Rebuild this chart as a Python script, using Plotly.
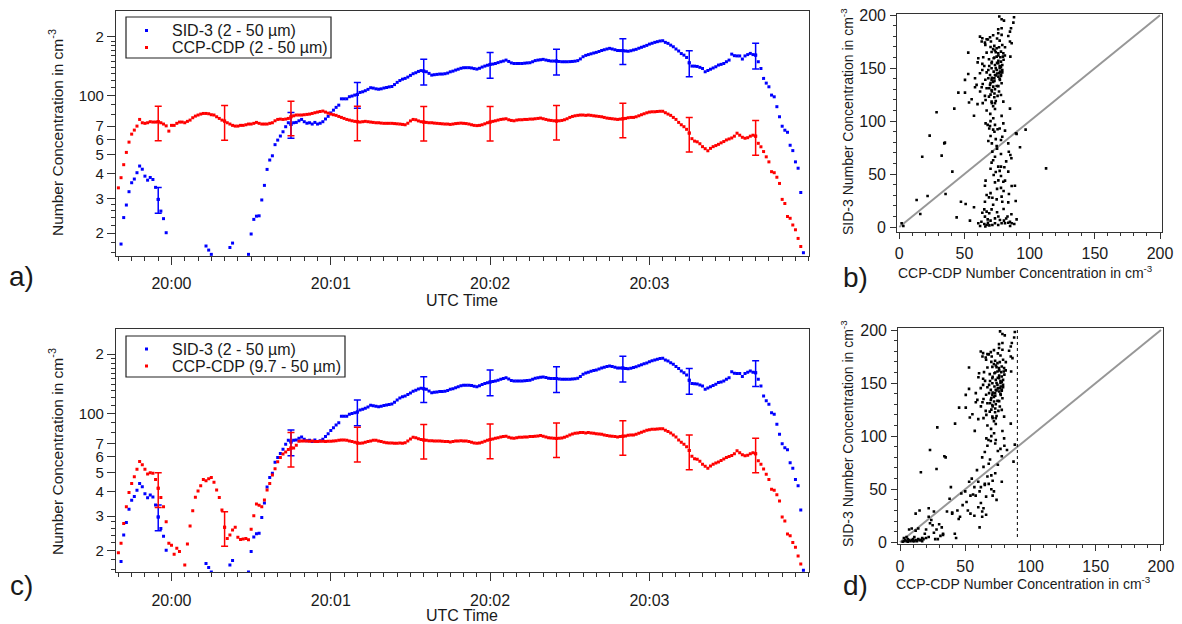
import plotly.graph_objects as go

W, H = 1182, 624
FONT = "Arial, Liberation Sans, sans-serif"
TXT = "#1a1a1a"
AX = "#333333"


def px(x):
    return x / W


def py(y):
    return 1 - y / H


# ---------------- time series data (1 Hz, seconds after 20:00:00 UTC) ----------------
T0 = -20  # first sample time of every series below
ERR_T = [-5, 20, 45, 70, 95, 120, 145, 170, 195, 220]  # times of the plotted error bars
SID_ERR_PCT = 15
CDP_ERR_PCT = 20

# SID-3 (2 - 50 um), cm^-3 (None = below the plotted range)
SID3 = [
    None, 17.6, 24.0, 27.8, 32.5, 36.1, 37.7, 40.6, 43.9, 42.3,
    39.0, 37.2, 38.4, 37.5, 34.2, 29.7, 25.9, 23.7, 20.1, None,
    None, None, None, None, None, None, None, None, None, None,
    None, None, None, 17.2, 16.4, 15.6, None, None, None, None,
    None, None, 16.9, 17.8, None, None, None, None, None, 15.6,
    19.8, 23.5, 24.4, 24.5, 29.5, 35.0, 42.2, 47.1, 49.5, 56.4,
    59.5, 62.4, 65.6, 69.6, 72.9, 71.5, 72.9, 73.2, 74.6, 75.8,
    73.8, 72.5, 72.9, 71.8, 73.2, 71.8, 72.5, 73.8, 76.2, 78.6,
    81.8, 84.5, 87.3, 89.6, 96.5, 96.5, 96.5, 98.9, 99.7, 100.8,
    101.6, 104.0, 104.8, 106.1, 107.8, 109.9, 109.4, 108.5, 108.0, 108.5,
    109.5, 110.2, 111.0, 111.5, 114.0, 117.0, 119.5, 121.5, 122.6, 124.5,
    127.0, 129.5, 131.0, 133.0, 134.3, 133.5, 132.5, 130.0, 127.4, 128.0,
    128.5, 129.0, 129.0, 129.5, 130.5, 132.4, 133.5, 135.1, 136.5, 138.0,
    138.9, 139.0, 139.0, 138.5, 137.5, 136.7, 138.0, 140.0, 141.6, 143.0,
    144.4, 145.0, 146.0, 147.5, 149.0, 150.2, 151.9, 149.5, 147.0, 146.0,
    146.0, 146.0, 146.0, 146.5, 147.0, 147.3, 149.0, 151.0, 151.9, 152.5,
    153.2, 152.0, 151.0, 150.2, 150.2, 150.2, 149.5, 149.0, 149.0, 149.0,
    149.2, 149.5, 150.0, 151.0, 154.0, 158.0, 160.5, 162.0, 163.5, 165.0,
    166.3, 168.0, 170.0, 171.5, 173.0, 174.3, 173.0, 171.5, 170.0, 169.8,
    169.8, 169.0, 168.5, 169.5, 171.0, 172.3, 174.5, 176.5, 178.5, 180.5,
    183.2, 185.0, 187.0, 188.5, 190.0, 190.6, 187.0, 184.8, 181.0, 177.6,
    173.0, 169.0, 164.0, 161.0, 156.7, 147.2, 141.6, 141.5, 141.0, 139.5,
    137.7, 132.5, 134.5, 136.5, 138.5, 140.5, 143.3, 144.5, 146.0, 149.0,
    151.9, 162.9, 160.0, 159.5, 159.5, 153.8, 159.5, 162.0, 164.3, 162.0,
    161.0, 149.0, 137.7, 122.6, 116.0, 111.1, 100.8, 98.8, 88.0, 78.2,
    70.0, 66.8, 65.2, 56.0, 52.6, 46.1, 42.8, 32.2, 15.9,
]

# CCP-CDP (2 - 50 um), cm^-3
CDP_2_50 = [
    34.0, 38.3, 44.6, 51.5, 58.1, 63.8, 66.9, 70.1, 75.8, 72.9,
    72.4, 72.9, 73.8, 73.5, 73.5, 73.8, 72.9, 71.8, 70.3, 66.1,
    70.7, 70.7, 72.4, 73.5, 73.5, 72.9, 74.1, 75.2, 77.3, 78.8,
    79.8, 80.7, 81.3, 81.3, 81.0, 80.1, 79.8, 78.2, 76.7, 75.2,
    74.3, 72.9, 71.8, 70.7, 70.1, 70.1, 70.7, 70.7, 71.2, 71.8,
    71.8, 72.4, 73.2, 72.4, 71.8, 71.8, 71.8, 72.4, 72.9, 74.6,
    75.8, 76.1, 75.8, 76.1, 76.7, 78.2, 79.1, 79.8, 79.8, 79.8,
    80.1, 80.4, 80.7, 81.3, 82.0, 82.6, 83.2, 83.6, 82.6, 81.6,
    80.7, 80.1, 79.5, 78.5, 77.6, 76.7, 75.8, 75.2, 74.6, 74.1,
    73.8, 73.5, 73.8, 74.1, 73.8, 73.5, 73.2, 72.9, 72.9, 72.6,
    72.4, 72.4, 72.4, 72.4, 72.2, 72.0, 71.8, 71.5, 71.2, 72.5,
    74.5, 75.8, 75.5, 74.5, 73.8, 73.5, 73.2, 72.9, 72.9, 72.6,
    72.4, 72.2, 72.0, 71.8, 71.8, 71.5, 71.8, 72.2, 72.4, 72.6,
    72.4, 72.2, 71.8, 71.2, 70.7, 70.5, 70.7, 71.2, 72.0, 72.9,
    73.5, 74.1, 74.6, 75.2, 75.8, 76.1, 76.4, 75.5, 74.9, 74.6,
    75.2, 75.5, 75.5, 75.8, 75.8, 76.1, 76.1, 76.4, 76.7, 77.0,
    76.4, 75.8, 75.2, 74.9, 74.6, 74.4, 74.6, 74.9, 75.5, 76.4,
    77.6, 78.5, 79.1, 79.5, 79.8, 79.8, 79.5, 79.8, 79.5, 79.1,
    78.8, 78.5, 78.2, 77.6, 77.0, 76.7, 76.4, 76.1, 75.8, 76.1,
    76.4, 76.7, 77.3, 77.6, 77.6, 78.2, 79.1, 80.1, 81.0, 81.9,
    82.6, 82.9, 82.9, 83.2, 83.4, 83.4, 82.0, 80.7, 79.5, 77.6,
    75.8, 73.2, 71.2, 69.6, 67.5, 64.6, 60.5, 58.8, 58.3, 57.0,
    55.1, 53.8, 52.5, 54.0, 55.1, 55.8, 56.6, 57.6, 58.5, 59.6,
    60.3, 61.0, 62.3, 64.5, 63.0, 61.5, 60.8, 61.2, 62.3, 63.0,
    62.3, 57.3, 55.0, 52.0, 48.9, 46.1, 41.1, 40.6, 38.5, 35.8,
    29.7, 28.3, 24.3, 23.8, 22.0, 20.8, 18.8, 17.1, None,
]

# CCP-CDP (9.7 - 50 um), cm^-3
CDP_97_50 = [
    19.5, 21.8, 27.5, 33.5, 39.5, 44.0, 47.6, 51.9, 56.9, 54.8,
    51.9, 49.1, 49.9, 49.5, 46.1, 41.5, 37.3, 33.5, 28.1, 21.8,
    21.3, 19.2, 20.6, 19.8, None, 16.9, 21.6, 26.7, 31.9, 37.4,
    40.2, 42.8, 46.1, 45.4, 46.5, 47.2, 44.6, 40.7, 37.3, 32.2,
    26.3, 23.1, 24.0, 25.5, 26.3, 23.4, 22.8, 22.9, 23.1, 22.7,
    25.7, 30.1, 34.6, 34.1, 33.5, 36.2, 40.7, 44.0, 48.5, 52.3,
    56.7, 59.5, 62.1, 63.5, 65.5, 66.6, 66.6, 68.7, 72.0, 72.3,
    72.3, 72.3, 72.0, 72.3, 71.8, 71.8, 72.0, 72.0, 71.8, 72.0,
    72.0, 72.3, 72.6, 72.9, 73.2, 73.2, 72.9, 72.3, 71.8, 71.2,
    70.7, 70.5, 70.7, 71.2, 71.8, 72.3, 72.9, 72.9, 72.3, 71.8,
    71.2, 70.9, 70.7, 70.7, 70.5, 70.5, 70.7, 70.5, 70.9, 72.2,
    74.0, 75.5, 75.2, 74.2, 73.5, 73.2, 72.9, 72.6, 72.6, 72.4,
    72.4, 72.2, 72.0, 71.8, 71.8, 71.5, 71.8, 72.2, 72.4, 72.6,
    72.4, 72.2, 71.8, 71.2, 70.7, 70.5, 70.7, 71.2, 72.0, 72.9,
    73.5, 74.1, 74.6, 75.2, 75.8, 76.1, 76.4, 75.5, 74.9, 74.6,
    75.2, 75.5, 75.5, 75.8, 75.8, 76.1, 76.1, 76.4, 76.7, 77.0,
    76.4, 75.8, 75.2, 74.9, 74.6, 74.4, 74.6, 74.9, 75.5, 76.4,
    77.6, 78.5, 79.1, 79.5, 79.8, 79.8, 79.5, 79.8, 79.5, 79.1,
    78.8, 78.5, 78.2, 77.6, 77.0, 76.7, 76.4, 76.1, 75.8, 76.1,
    76.4, 76.7, 77.3, 77.6, 77.6, 78.2, 79.1, 80.1, 81.0, 81.9,
    82.6, 82.9, 82.9, 83.2, 83.4, 83.4, 82.0, 80.7, 79.5, 77.6,
    75.8, 73.2, 71.2, 69.6, 67.5, 64.6, 60.5, 58.8, 58.3, 57.0,
    55.1, 53.8, 52.5, 54.0, 55.1, 55.8, 56.6, 57.6, 58.5, 59.6,
    60.3, 61.0, 62.3, 64.5, 63.0, 61.5, 60.8, 61.2, 62.3, 63.0,
    62.3, 57.3, 55.0, 52.0, 48.9, 46.1, 41.1, 40.6, 38.5, 35.8,
    29.7, 28.3, 24.3, 23.8, 22.0, 20.8, 18.8, 17.1, None,
]

TIME_TICKS = [0, 60, 120, 180]
TIME_LABELS = ["20:00", "20:01", "20:02", "20:03"]
LOG_TICKS = [20, 30, 40, 50, 60, 70, 100, 200]
LOG_LABELS = ["2", "3", "4", "5", "6", "7", "100", "2"]
LOG_MINOR = [16, 18, 22, 24, 26, 28, 80, 90, 110, 120, 130, 140, 150, 160, 170, 180, 190]

# ---------------- scatter data (CCP-CDP x, SID-3 y), cm^-3 ----------------
# points with SID-3 >= ~95 cm^-3 appear identically in panels b) and d)
SCATTER_UPPER = [
    (76.7, 198.7), (78.5, 196.2), (80.3, 194.9), (88.0, 198.1), (87.5, 193.0), (85.7, 187.7),
    (78.5, 187.7), (75.9, 186.7), (84.9, 184.5), (75.9, 183.0), (78.5, 181.4), (83.6, 180.4),
    (61.9, 179.8), (63.7, 178.2), (67.0, 177.3), (69.6, 179.2), (63.2, 175.1), (65.7, 174.1),
    (70.3, 175.1), (84.9, 175.1), (72.9, 171.0), (74.7, 168.8), (76.5, 169.7), (79.0, 171.9),
    (81.1, 169.7), (86.2, 173.5), (52.9, 164.7), (67.0, 164.7), (70.8, 165.3), (73.4, 166.6),
    (75.9, 164.1), (78.0, 165.6), (79.8, 164.1), (60.6, 159.3), (64.4, 160.3), (68.8, 158.4),
    (72.4, 159.3), (74.7, 160.9), (77.5, 160.3), (79.5, 160.9), (85.2, 160.9), (60.1, 155.5),
    (63.7, 154.0), (65.2, 152.1), (70.8, 154.6), (73.4, 153.0), (75.9, 154.6), (78.0, 156.2),
    (79.0, 153.0), (63.7, 148.3), (68.3, 148.3), (70.8, 149.9), (72.4, 146.7), (74.7, 148.3),
    (77.2, 146.7), (79.0, 148.3), (52.9, 144.5), (61.9, 145.2), (69.6, 143.6), (73.4, 143.6),
    (76.5, 145.2), (78.0, 142.7), (58.1, 140.5), (68.3, 140.5), (70.8, 138.9), (72.9, 140.5),
    (77.2, 138.9), (50.4, 138.9), (59.3, 134.2), (69.6, 134.2), (72.1, 132.6), (74.7, 133.2),
    (78.5, 135.7), (58.1, 131.9), (63.2, 131.9), (67.0, 131.0), (70.8, 129.4), (73.4, 130.1),
    (76.5, 127.9), (45.3, 126.9), (50.4, 126.9), (65.7, 123.8), (68.8, 123.1), (72.9, 122.5),
    (75.4, 123.8), (78.0, 124.7), (55.5, 120.6), (53.5, 117.5), (66.2, 120.0), (70.8, 118.4),
    (73.4, 116.8), (79.8, 118.4), (42.2, 111.8), (28.6, 108.3), (73.4, 111.5), (84.9, 111.8),
    (57.3, 105.0), (69.8, 106.8), (72.1, 102.7), (78.5, 104.9), (66.2, 97.9), (67.8, 96.4),
    (69.6, 95.4), (73.4, 96.4), (79.8, 97.9),
    (74, 150), (75, 145), (76, 142), (77, 152), (73, 138), (72, 137), (71, 141), (75, 155),
    (76, 157), (77, 150), (78, 144), (74, 143), (70, 136), (69, 131), (71, 128), (73, 126),
    (74, 119), (72, 114), (71, 117), (70, 125), (76, 133), (77, 140), (79, 146), (78, 151),
    (80, 158), (81, 162), (76, 162), (74, 165), (72, 168), (70, 170), (66, 172), (68, 177),
    (72, 181), (77, 176), (75, 178), (73, 160), (71, 156), (69, 152), (67, 146), (66, 139),
    (64, 135), (62, 128), (60, 116), (64, 117), (67, 110), (70, 100),
]

SCATTER_B_LOWER = [
    (75.4, 92.3), (81.1, 91.0), (90.0, 87.9), (96.9, 92.0), (23.3, 86.3), (68.3, 81.2),
    (79.0, 85.3), (78.0, 82.2), (35.0, 79.7), (34.5, 79.0), (74.7, 76.5), (83.6, 79.0),
    (92.6, 75.3), (71.4, 71.2), (17.6, 66.4), (32.5, 67.4), (73.4, 66.4), (78.0, 69.0),
    (85.2, 68.0), (70.8, 60.8), (75.9, 57.0), (78.0, 57.0), (80.6, 56.4), (40.7, 52.3),
    (72.4, 49.1), (78.0, 48.2), (83.6, 52.3), (66.2, 43.8), (81.1, 43.8), (79.8, 42.8),
    (73.4, 42.2), (65.7, 39.0), (86.2, 38.7), (88.7, 39.0), (21.7, 29.3), (35.5, 31.2),
    (67.0, 30.2), (68.8, 28.0), (71.4, 27.7), (74.7, 26.1), (78.5, 28.7), (84.1, 31.2),
    (13.3, 25.5), (47.3, 23.9), (50.9, 21.7), (65.7, 23.9), (79.0, 23.9), (83.6, 23.3),
    (89.3, 24.6), (57.3, 18.6), (65.2, 16.7), (67.0, 14.5), (70.8, 16.7), (63.7, 13.5),
    (44.0, 9.1), (16.1, 12.3), (54.2, 6.0), (65.7, 9.8), (67.8, 7.2), (73.4, 8.2),
    (77.2, 6.6), (80.3, 6.0), (84.9, 5.0), (90.0, 7.2), (60.6, 3.5), (65.2, 2.8),
    (67.0, 1.9), (69.1, 1.6), (71.4, 1.9), (73.4, 3.5), (75.9, 1.9), (78.5, 3.5),
    (81.1, 3.5), (83.6, 4.1), (86.2, 3.5), (88.2, 2.8), (1.8, 3.5), (3.1, 0.9),
    (112.6, 55.4), (89.5, 88.5), (72, 92), (73, 90), (77, 93), (69, 93), (70, 86),
    (74, 83), (75, 74), (71, 79), (72, 63), (74, 52), (70, 55), (77, 53), (76, 44),
    (82, 62), (86, 65), (84, 71), (75, 36), (70, 32), (78, 37), (80, 34), (72, 21),
    (69, 13), (75, 14), (80, 17), (83, 10), (86, 12), (63, 5), (68, 4), (70, 6),
    (76, 10), (82, 8), (85, 1), (62, 1), (66, 0.5),
]

SCATTER_D_LOWER = [
    (3, 1), (4, 2), (5, 1), (6, 3), (7, 2), (8, 1), (9, 2), (10, 3), (11, 1), (12, 2),
    (13, 1), (5, 5), (3, 4), (7, 12), (12, 11), (14, 13), (15, 2), (17, 4), (18, 3), (19, 8),
    (20, 12), (22, 5), (24, 21), (25, 16), (26, 9), (28, 12), (29, 3), (30, 17), (33, 8), (32, 14),
    (36, 29), (40, 27), (42, 8), (43, 4), (44, 30), (46, 24), (47, 46), (50, 48), (51, 38), (53, 57),
    (54, 27), (54, 44), (56, 45), (57, 52), (59, 68), (60, 57), (61, 48), (62, 52), (63, 29), (63, 24),
    (64, 32), (64, 71), (65, 55), (65, 54), (66, 26), (68, 74), (69, 78), (70, 63), (71, 44), (73, 65),
    (74, 40), (75, 73), (77, 88), (78, 81), (78, 57), (82, 87), (87, 76), (12, 27), (15, 30), (16, 66),
    (23, 87), (28, 69), (34, 81), (39, 52), (22, 32), (22, 24), (23, 18), (26, 29), (27, 3), (33, 7),
    (38, 41), (63, 80), (65, 85), (67, 62), (62, 37), (68, 55), (66, 43), (71, 58), (9, 13), (35, 80),
    (20, 4), (16, 2), (45, 22), (52, 30), (58, 44), (60, 33), (67, 91), (73, 93), (75, 86), (80, 91),
    (88, 92), (70, 50), (72, 48), (55, 60), (48, 35), (57, 25), (61, 14), (40, 28), (31, 6), (11, 5),
    (6, 0.5), (2, 0.5), (10, 1), (14, 3), (17, 1),
]

ONE_TO_ONE = [0, 200]
CDP_LIMIT = 90          # upper limit of the CCP-CDP 9.7-50 um concentration (dotted)
CDP_LIMIT_SPAN = [5, 200]
LIN_TICKS = [0, 50, 100, 150, 200]

BLUE = "#0000ff"
RED = "#ff0000"

fig = go.Figure()


def times(series):
    return list(range(T0, T0 + len(series)))


def ts_traces(series, name, color, pct, xa, ya):
    fig.add_trace(go.Scatter(
        x=times(series), y=series, mode="markers", name=name, showlegend=False,
        marker=dict(symbol="square", size=3, color=color),
        xaxis=xa, yaxis=ya))
    ex = [t for t in ERR_T if series[t - T0] is not None]
    ey = [series[t - T0] for t in ex]
    fig.add_trace(go.Scatter(
        x=ex, y=ey, mode="markers", showlegend=False,
        marker=dict(symbol="square", size=3, color=color),
        error_y=dict(type="percent", value=pct, color=color, thickness=1.5, width=3.5),
        xaxis=xa, yaxis=ya))


SID_NAME = "SID-3 (2 - 50 µm)"
CDP_A_NAME = "CCP-CDP (2 - 50 µm)"
CDP_C_NAME = "CCP-CDP (9.7 - 50 µm)"

# panel a
ts_traces(SID3, SID_NAME, BLUE, SID_ERR_PCT, "x", "y")
ts_traces(CDP_2_50, CDP_A_NAME, RED, CDP_ERR_PCT, "x", "y")
# panel c
ts_traces(SID3, SID_NAME, BLUE, SID_ERR_PCT, "x3", "y3")
ts_traces(CDP_97_50, CDP_C_NAME, RED, CDP_ERR_PCT, "x3", "y3")


def scatter_panel(points, xa, ya, limit=False):
    fig.add_trace(go.Scatter(x=ONE_TO_ONE, y=ONE_TO_ONE, mode="lines",
                             line=dict(color="#979797", width=2), showlegend=False,
                             xaxis=xa, yaxis=ya))
    if limit:
        fig.add_trace(go.Scatter(x=[CDP_LIMIT, CDP_LIMIT], y=CDP_LIMIT_SPAN, mode="lines",
                                 line=dict(color="#222", width=1.2, dash="dot"),
                                 showlegend=False, xaxis=xa, yaxis=ya))
    fig.add_trace(go.Scatter(x=[p[0] for p in points], y=[p[1] for p in points],
                             mode="markers", showlegend=False,
                             marker=dict(symbol="square", size=2.6, color="#000"),
                             xaxis=xa, yaxis=ya))


scatter_panel(SCATTER_UPPER + SCATTER_B_LOWER, "x2", "y2")
scatter_panel(SCATTER_UPPER + SCATTER_D_LOWER, "x4", "y4", limit=True)

base = dict(showline=True, linecolor=AX, linewidth=1.2, mirror=True, ticks="outside",
            tickcolor=AX, tickwidth=1, showgrid=False, zeroline=False,
            tickfont=dict(family=FONT, size=16, color=TXT), automargin=False)


def time_xaxis(y_anchor):
    return dict(base, anchor=y_anchor, domain=[px(116), px(809)], range=[-20.9, 240.1],
                tickmode="array", tickvals=TIME_TICKS, ticktext=TIME_LABELS, ticklen=8,
                ticklabelstandoff=5,
                minor=dict(tickmode="linear", tick0=0, dtick=5, ticks="outside", ticklen=4,
                           tickcolor=AX))


def log_yaxis(x_anchor, top, bottom, rng):
    return dict(base, anchor=x_anchor, type="log", domain=[py(bottom), py(top)], range=rng,
                tickmode="array", tickvals=LOG_TICKS, ticktext=LOG_LABELS, ticklen=8,
                tickfont=dict(family=FONT, size=15, color=TXT),
                minor=dict(tickmode="array", tickvals=LOG_MINOR, ticks="outside", ticklen=4,
                           tickcolor=AX))


def lin_axis(anchor, dom, rng):
    return dict(base, anchor=anchor, domain=dom, range=rng, tickmode="array",
                tickvals=LIN_TICKS, ticklen=6, ticklabelstandoff=1,
                minor=dict(tickmode="linear", tick0=0, dtick=10, ticks="outside", ticklen=3,
                           tickcolor=AX))


ann = []
shapes = []


def label(x, y, text, size, angle=0, anchor="center"):
    ann.append(dict(x=px(x), y=py(y), xref="paper", yref="paper", text=text, showarrow=False,
                    textangle=angle, xanchor=anchor, yanchor="middle",
                    font=dict(family=FONT, size=size, color=TXT)))


def legend_box(x0, y0, x1, y1, rows):
    shapes.append(dict(type="rect", xref="paper", yref="paper", x0=px(x0), x1=px(x1),
                       y0=py(y1), y1=py(y0), line=dict(color="#222", width=1.2),
                       fillcolor="white", layer="above"))
    for (yy, name, color) in rows:
        shapes.append(dict(type="rect", xref="paper", yref="paper",
                           x0=px(x0 + 19), x1=px(x0 + 22), y0=py(yy + 1.5), y1=py(yy - 1.5),
                           line=dict(width=0), fillcolor=color, layer="above"))
        label(x0 + 44, yy, name, 16, anchor="left")


legend_box(126, 17, 331, 58, [(30.5, SID_NAME, BLUE), (47.5, CDP_A_NAME, RED)])
legend_box(126, 336, 345, 377, [(349, SID_NAME, BLUE), (366, CDP_C_NAME, RED)])

YT = "Number Concentration in cm<sup>-3</sup>"
label(56, 133, YT, 15.5, -90)
label(56, 452, YT, 15.5, -90)
label(462, 300, "UTC Time", 16)
label(462, 615, "UTC Time", 16)
label(847, 122, "SID-3 " + YT, 14, -90)
label(847, 434, "SID-3 " + YT, 14, -90)
label(1025, 272, "CCP-CDP " + YT, 14)
label(1023, 583, "CCP-CDP " + YT, 14)
label(21, 276, "a)", 28)
label(855, 277, "b)", 28)
label(21, 585, "c)", 28)
label(855, 585, "d)", 28)

fig.update_layout(
    width=W, height=H, margin=dict(l=0, r=0, t=0, b=0, autoexpand=False),
    paper_bgcolor="white", plot_bgcolor="white", showlegend=False,
    font=dict(family=FONT, color=TXT),
    xaxis=time_xaxis("y"),
    yaxis=log_yaxis("x", 11, 256, [1.1847, 2.4314]),
    xaxis3=time_xaxis("y3"),
    yaxis3=log_yaxis("x3", 329, 572.3, [1.191, 2.429]),
    xaxis2=lin_axis("y2", [px(897.3), px(1161.7)], [-1.53, 201.3]),
    yaxis2=lin_axis("x2", [py(232), py(13.5)], [-4.7, 201.6]),
    xaxis4=lin_axis("y4", [px(898.3), px(1163.3)], [-1.3, 201.8]),
    yaxis4=lin_axis("x4", [py(544.3), py(328.3)], [-1.9, 201.6]),
    annotations=ann,
    shapes=shapes,
)

fig.write_html("out.html")
